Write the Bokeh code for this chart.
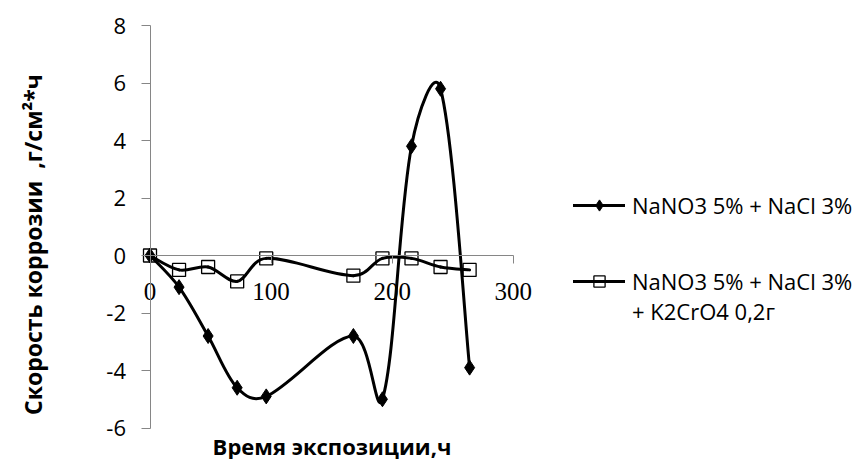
import math
from bokeh.plotting import figure
from bokeh.models import Range1d, LinearAxis, FixedTicker, Legend, LegendItem, ColumnDataSource
from bokeh.embed import file_html
from bokeh.resources import INLINE

# ---- data ----
hours = [0, 24, 48, 72, 96, 168, 192, 216, 240, 264]
rate_nacl = [0, -1.1, -2.8, -4.6, -4.9, -2.8, -5.0, 3.8, 5.8, -3.9]
rate_k2cro4 = [0, -0.5, -0.4, -0.9, -0.1, -0.7, -0.1, -0.1, -0.4, -0.5]
x_ticks = [0, 100, 200, 300]
y_ticks = [-6, -4, -2, 0, 2, 4, 6, 8]
series_label_1 = "NaNO3 5% + NaCl 3%"
series_label_2 = ["NaNO3 5% + NaCl 3%", "+ K2CrO4 0,2г"]   # two lines
x_title = "Время экспозиции,ч"
y_title = "Скорость коррозии\u00a0\u00a0,г/см²*ч"

AXIS_GREY = "#868686"

# ---- layout: pixel anchors of the plot area inside the 862x459 canvas ----
W, H = 862, 459
X_LEFT_PX, X_RIGHT_PX = 149.5, 512.7    # where x_ticks[0] / x_ticks[-1] sit
Y_TOP_PX, Y_BOTTOM_PX = 25.0, 427.5     # where y_ticks[-1] / y_ticks[0] sit
Y_TITLE_CENTER_PX = 244.0
kx = (X_RIGHT_PX - X_LEFT_PX) / (x_ticks[-1] - x_ticks[0])
ky = (Y_BOTTOM_PX - Y_TOP_PX) / (y_ticks[-1] - y_ticks[0])
x_range = Range1d(x_ticks[0] - X_LEFT_PX / kx, x_ticks[-1] + (W - X_RIGHT_PX) / kx)
y_range = Range1d(y_ticks[0] - (H - Y_BOTTOM_PX) / ky, y_ticks[-1] + Y_TOP_PX / ky)


def smooth_segments(xs, ys):
    """Bezier control points through the data points (Excel-like smoothed line),
    tangents scaled by (square-root) segment lengths measured on screen."""
    n = len(xs)
    px = [x * kx for x in xs]
    py = [y * ky for y in ys]
    seg = [math.sqrt(math.hypot(px[i + 1] - px[i], py[i + 1] - py[i])) for i in range(n - 1)]
    d = dict(x0=[], y0=[], x1=[], y1=[], cx0=[], cy0=[], cx1=[], cy1=[])
    for i in range(n - 1):
        im, ip = max(i - 1, 0), min(i + 2, n - 1)
        tx0, ty0 = xs[i + 1] - xs[im], ys[i + 1] - ys[im]
        f0 = seg[i] / ((seg[i - 1] if i > 0 else seg[i]) + seg[i]) / 3.0
        tx1, ty1 = xs[ip] - xs[i], ys[ip] - ys[i]
        f1 = seg[i] / (seg[i] + (seg[i + 1] if i + 1 < n - 1 else seg[i])) / 3.0
        d["x0"].append(xs[i]); d["y0"].append(ys[i])
        d["x1"].append(xs[i + 1]); d["y1"].append(ys[i + 1])
        d["cx0"].append(xs[i] + tx0 * f0)
        d["cy0"].append(ys[i] + ty0 * f0)
        d["cx1"].append(xs[i + 1] - tx1 * f1)
        d["cy1"].append(ys[i + 1] - ty1 * f1)
    return ColumnDataSource(d)


p = figure(width=W, height=H, output_backend="svg", toolbar_location=None,
           x_range=x_range, y_range=y_range,
           x_axis_type=None, y_axis_type=None, min_border=0)
p.min_border_left = p.min_border_right = p.min_border_top = p.min_border_bottom = 0
p.outline_line_color = None
p.background_fill_color = "white"
p.border_fill_color = "white"

# y axis crossing at x = 0
yax = LinearAxis(ticker=FixedTicker(ticks=y_ticks), fixed_location=x_ticks[0],
                 bounds=(y_ticks[0], y_ticks[-1]))
yax.major_label_overrides = {t: str(t) for t in y_ticks}
yax.axis_line_color = AXIS_GREY
yax.major_tick_line_color = AXIS_GREY
yax.major_tick_in = 0
yax.major_tick_out = 9
yax.minor_tick_line_color = None
yax.major_label_text_font = "Open Sans"
yax.major_label_text_font_size = "22px"
yax.major_label_text_color = "black"
yax.major_label_standoff = 15
p.add_layout(yax, "left")

# y axis title (centred like the reference)
yc = y_ticks[-1] - (Y_TITLE_CENTER_PX - Y_TOP_PX) / ky
yt = LinearAxis(ticker=FixedTicker(ticks=[]), fixed_location=x_ticks[0], bounds=(yc - 1, yc + 1))
yt.axis_line_color = None
yt.major_tick_line_color = None
yt.minor_tick_line_color = None
yt.major_tick_in = 0
yt.major_tick_out = 0
yt.major_label_standoff = 0
yt.major_label_text_font_size = "0px"
yt.axis_label = y_title
yt.axis_label_text_font = "Open Sans"
yt.axis_label_text_font_style = "bold"
yt.axis_label_text_font_size = "23px"
yt.axis_label_text_color = "black"
yt.axis_label_standoff = 102
p.add_layout(yt, "left")

# x axis crossing at y = 0
xax = LinearAxis(ticker=FixedTicker(ticks=x_ticks), fixed_location=0,
                 bounds=(x_ticks[0], x_ticks[-1]))
xax.axis_line_color = AXIS_GREY
xax.major_tick_line_color = AXIS_GREY
xax.major_tick_in = 0
xax.major_tick_out = 8
xax.minor_tick_line_color = None
xax.major_label_text_font = "Liberation Serif"
xax.major_label_text_font_size = "25px"
xax.major_label_text_color = "black"
xax.major_label_standoff = 19
p.add_layout(xax, "below")

# x axis title under the bottom of the value axis
xt = LinearAxis(ticker=FixedTicker(ticks=[]), fixed_location=y_ticks[0],
                bounds=(x_ticks[0], x_ticks[-1]))
xt.axis_line_color = None
xt.major_tick_line_color = None
xt.minor_tick_line_color = None
xt.major_label_text_font_size = "0px"
xt.axis_label = x_title
xt.axis_label_text_font = "Open Sans"
xt.axis_label_text_font_style = "bold"
xt.axis_label_text_font_size = "22px"
xt.axis_label_text_color = "black"
xt.axis_label_standoff = 2
p.add_layout(xt, "below")

# series 1
s1 = smooth_segments(hours, rate_nacl)
b1 = p.bezier(x0="x0", y0="y0", x1="x1", y1="y1", cx0="cx0", cy0="cy0", cx1="cx1", cy1="cy1",
              source=s1, line_color="black", line_width=3, line_cap="round")
m1 = p.scatter(hours, rate_nacl, marker="diamond", size=15, fill_color="black", line_color="black")

# series 2
s2 = smooth_segments(hours, rate_k2cro4)
b2 = p.bezier(x0="x0", y0="y0", x1="x1", y1="y1", cx0="cx0", cy0="cy0", cx1="cx1", cy1="cy1",
              source=s2, line_color="black", line_width=3, line_cap="round")
m2 = p.scatter(hours, rate_k2cro4, marker="square", size=13, fill_alpha=0, line_color="black", line_width=1.3)


def style_legend(lg):
    lg.glyph_width = 52
    lg.glyph_height = 28
    lg.label_standoff = 7
    lg.padding = 0
    lg.margin = 0
    lg.border_line_color = None
    lg.background_fill_alpha = 0
    lg.label_text_font = "Open Sans"
    lg.label_text_font_size = "22px"
    lg.label_text_color = "black"


legend_a = Legend(items=[LegendItem(label=series_label_1, renderers=[b1, m1])], location=(573, 239))
style_legend(legend_a)
p.add_layout(legend_a, "center")

legend_b = Legend(items=[LegendItem(label=series_label_2[0], renderers=[b2, m2]),
                         LegendItem(label=series_label_2[1], renderers=[])],
                  location=(573, 133))
style_legend(legend_b)
legend_b.spacing = -2
p.add_layout(legend_b, "center")

open("out.html", "w").write(file_html(p, INLINE))
